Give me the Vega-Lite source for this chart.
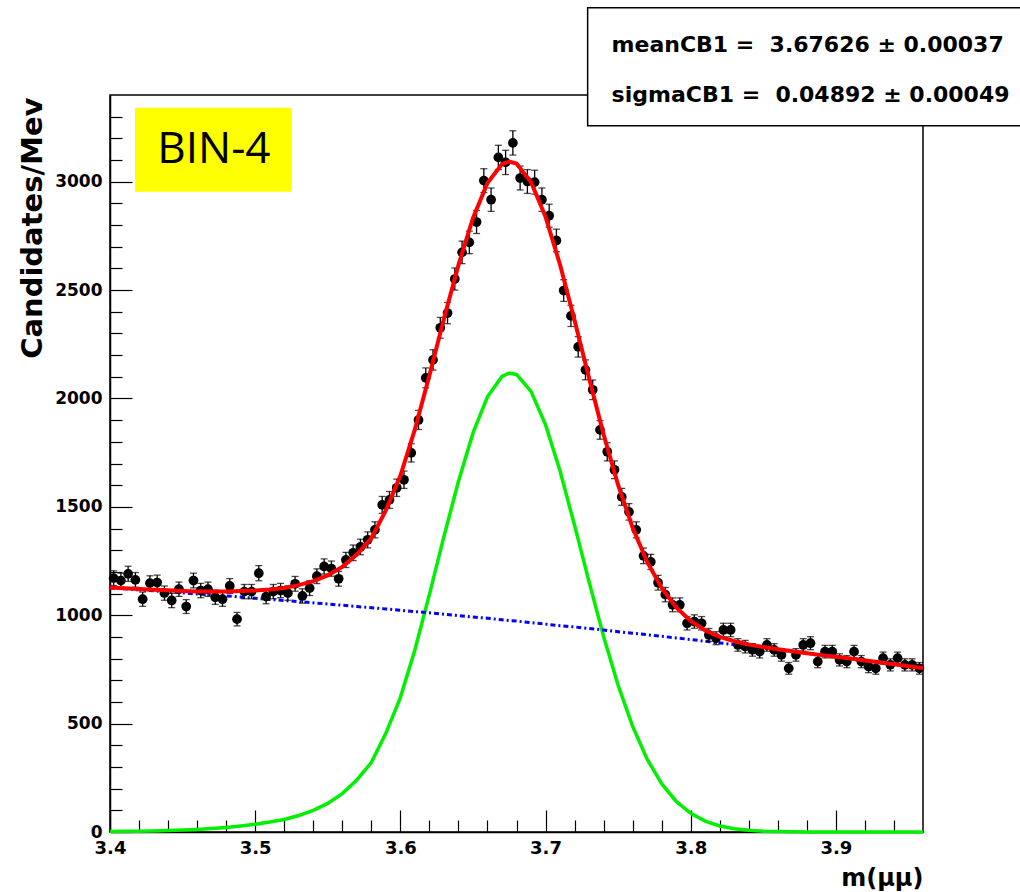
{
  "$schema": "https://vega.github.io/schema/vega-lite/v6.json",
  "width": 813,
  "height": 737,
  "autosize": {"type": "none"},
  "padding": {"left": 110, "top": 95, "right": 97, "bottom": 60},
  "background": "white",
  "config": {
    "view": {"stroke": "black", "strokeWidth": 1.5},
    "axis": {"grid": false, "domainColor": "black", "domainWidth": 1.5, "tickColor": "black", "tickWidth": 1.2, "labelColor": "black", "titleColor": "black", "labelFont": "DejaVu Sans", "titleFont": "DejaVu Sans", "labelFontWeight": "bold", "titleFontWeight": "bold"}
  },
  "resolve": {"axis": {"x": "independent", "y": "independent"}},
  "datasets": {
    "curves": [
      {"x":3.40,"g":2,"b":1126,"t":1128},{"x":3.41,"g":3,"b":1122,"t":1125},{"x":3.42,"g":4,"b":1117,"t":1121},{"x":3.43,"g":5,"b":1113,"t":1118},{"x":3.44,"g":7,"b":1108,"t":1115},{"x":3.45,"g":9,"b":1103,"t":1112},{"x":3.46,"g":12,"b":1098,"t":1110},{"x":3.47,"g":16,"b":1094,"t":1110},{"x":3.48,"g":21,"b":1089,"t":1110},{"x":3.49,"g":28,"b":1084,"t":1112},
      {"x":3.50,"g":36,"b":1078,"t":1114},{"x":3.51,"g":46,"b":1073,"t":1119},{"x":3.52,"g":58,"b":1068,"t":1126},{"x":3.53,"g":76,"b":1063,"t":1139},{"x":3.54,"g":100,"b":1057,"t":1157},{"x":3.55,"g":132,"b":1052,"t":1184},{"x":3.56,"g":177,"b":1046,"t":1223},{"x":3.57,"g":240,"b":1040,"t":1280},{"x":3.58,"g":320,"b":1035,"t":1355},{"x":3.59,"g":455,"b":1029,"t":1484},
      {"x":3.60,"g":620,"b":1023,"t":1643},{"x":3.61,"g":840,"b":1017,"t":1857},{"x":3.62,"g":1095,"b":1011,"t":2106},{"x":3.63,"g":1363,"b":1005,"t":2368},{"x":3.64,"g":1617,"b":998,"t":2615},{"x":3.65,"g":1840,"b":992,"t":2832},{"x":3.66,"g":2008,"b":986,"t":2994},{"x":3.67,"g":2102,"b":979,"t":3081},{"x":3.675,"g":2117,"b":976,"t":3093},{"x":3.68,"g":2111,"b":973,"t":3084},{"x":3.69,"g":2033,"b":966,"t":2999},
      {"x":3.70,"g":1879,"b":959,"t":2838},{"x":3.71,"g":1665,"b":952,"t":2617},{"x":3.72,"g":1415,"b":946,"t":2361},{"x":3.73,"g":1154,"b":939,"t":2093},{"x":3.74,"g":902,"b":932,"t":1834},{"x":3.75,"g":677,"b":924,"t":1601},{"x":3.76,"g":487,"b":917,"t":1404},{"x":3.77,"g":336,"b":910,"t":1246},{"x":3.78,"g":223,"b":903,"t":1126},{"x":3.79,"g":141,"b":895,"t":1036},
      {"x":3.80,"g":86,"b":888,"t":974},{"x":3.81,"g":50,"b":880,"t":930},{"x":3.82,"g":28,"b":872,"t":900},{"x":3.83,"g":15,"b":865,"t":880},{"x":3.84,"g":8,"b":857,"t":865},{"x":3.85,"g":4,"b":849,"t":853},{"x":3.86,"g":2,"b":841,"t":843},{"x":3.87,"g":1,"b":833,"t":834},{"x":3.88,"g":0,"b":825,"t":825},{"x":3.89,"g":0,"b":816,"t":816},
      {"x":3.90,"g":0,"b":808,"t":808},{"x":3.91,"g":0,"b":800,"t":800},{"x":3.92,"g":0,"b":791,"t":791},{"x":3.93,"g":0,"b":783,"t":783},{"x":3.94,"g":0,"b":774,"t":774},{"x":3.95,"g":0,"b":765,"t":765},{"x":3.96,"g":0,"b":756,"t":756}
    ],
    "points": [
      {"x":3.4025,"v":1171,"e":34},{"x":3.4075,"v":1160,"e":34},{"x":3.4125,"v":1191,"e":35},{"x":3.4175,"v":1163,"e":34},{"x":3.4225,"v":1074,"e":33},{"x":3.4275,"v":1148,"e":34},{"x":3.4325,"v":1151,"e":34},{"x":3.4375,"v":1102,"e":33},{"x":3.4425,"v":1068,"e":33},{"x":3.4475,"v":1120,"e":33},
      {"x":3.4525,"v":1040,"e":32},{"x":3.4575,"v":1160,"e":34},{"x":3.4625,"v":1114,"e":33},{"x":3.4675,"v":1120,"e":33},{"x":3.4725,"v":1083,"e":33},{"x":3.4775,"v":1074,"e":33},{"x":3.4825,"v":1135,"e":34},{"x":3.4875,"v":982,"e":31},{"x":3.4925,"v":1109,"e":33},{"x":3.4975,"v":1109,"e":33},
      {"x":3.5025,"v":1194,"e":35},{"x":3.5075,"v":1086,"e":33},{"x":3.5125,"v":1109,"e":33},{"x":3.5175,"v":1114,"e":33},{"x":3.5225,"v":1102,"e":33},{"x":3.5275,"v":1145,"e":34},{"x":3.5325,"v":1089,"e":33},{"x":3.5375,"v":1125,"e":34},{"x":3.5425,"v":1180,"e":34},{"x":3.5475,"v":1225,"e":35},
      {"x":3.5525,"v":1215,"e":35},{"x":3.5575,"v":1168,"e":34},{"x":3.5625,"v":1255,"e":35},{"x":3.5675,"v":1288,"e":36},{"x":3.5725,"v":1315,"e":36},{"x":3.5775,"v":1348,"e":37},{"x":3.5825,"v":1394,"e":37},{"x":3.5875,"v":1509,"e":39},{"x":3.5925,"v":1532,"e":39},{"x":3.5975,"v":1588,"e":40},
      {"x":3.6025,"v":1625,"e":40},{"x":3.6075,"v":1749,"e":42},{"x":3.6125,"v":1901,"e":44},{"x":3.6175,"v":2095,"e":46},{"x":3.6225,"v":2178,"e":47},{"x":3.6275,"v":2326,"e":48},{"x":3.6325,"v":2394,"e":49},{"x":3.6375,"v":2551,"e":51},{"x":3.6425,"v":2674,"e":52},{"x":3.6475,"v":2720,"e":52},
      {"x":3.6525,"v":2814,"e":53},{"x":3.6575,"v":3005,"e":55},{"x":3.6625,"v":2917,"e":54},{"x":3.6675,"v":3112,"e":56},{"x":3.6725,"v":3089,"e":56},{"x":3.6775,"v":3179,"e":56},{"x":3.6825,"v":3017,"e":55},{"x":3.6875,"v":3001,"e":55},{"x":3.6925,"v":2998,"e":55},{"x":3.6975,"v":2917,"e":54},
      {"x":3.7025,"v":2843,"e":53},{"x":3.7075,"v":2729,"e":52},{"x":3.7125,"v":2498,"e":50},{"x":3.7175,"v":2381,"e":49},{"x":3.7225,"v":2238,"e":47},{"x":3.7275,"v":2132,"e":46},{"x":3.7325,"v":2040,"e":45},{"x":3.7375,"v":1855,"e":43},{"x":3.7425,"v":1754,"e":42},{"x":3.7475,"v":1671,"e":41},
      {"x":3.7525,"v":1546,"e":39},{"x":3.7575,"v":1477,"e":38},{"x":3.7625,"v":1394,"e":37},{"x":3.7675,"v":1274,"e":36},{"x":3.7725,"v":1246,"e":35},{"x":3.7775,"v":1150,"e":34},{"x":3.7825,"v":1095,"e":33},{"x":3.7875,"v":1048,"e":32},{"x":3.7925,"v":1048,"e":32},{"x":3.7975,"v":963,"e":31},
      {"x":3.8025,"v":971,"e":31},{"x":3.8075,"v":963,"e":31},{"x":3.8125,"v":909,"e":30},{"x":3.8175,"v":894,"e":30},{"x":3.8225,"v":932,"e":31},{"x":3.8275,"v":932,"e":31},{"x":3.8325,"v":863,"e":29},{"x":3.8375,"v":855,"e":29},{"x":3.8425,"v":840,"e":29},{"x":3.8475,"v":832,"e":29},
      {"x":3.8525,"v":863,"e":29},{"x":3.8575,"v":840,"e":29},{"x":3.8625,"v":817,"e":29},{"x":3.8675,"v":755,"e":27},{"x":3.8725,"v":817,"e":29},{"x":3.8775,"v":863,"e":29},{"x":3.8825,"v":871,"e":30},{"x":3.8875,"v":786,"e":28},{"x":3.8925,"v":832,"e":29},{"x":3.8975,"v":832,"e":29},
      {"x":3.9025,"v":794,"e":28},{"x":3.9075,"v":786,"e":28},{"x":3.9125,"v":832,"e":29},{"x":3.9175,"v":786,"e":28},{"x":3.9225,"v":763,"e":28},{"x":3.9275,"v":755,"e":27},{"x":3.9325,"v":802,"e":28},{"x":3.9375,"v":771,"e":28},{"x":3.9425,"v":802,"e":28},{"x":3.9475,"v":771,"e":28},
      {"x":3.9525,"v":771,"e":28},{"x":3.9575,"v":755,"e":27}
    ],
    "binbox": [{"x1":3.4172,"x2":3.5253,"y1":2954,"y2":3341,"tx":3.4716,"ty":3145,"label":"BIN-4"}],
    "statbox": [{"x1":3.729,"x2":4.05,"y1":3258,"y2":3803}],
    "stattext": [
      {"x":3.7455,"y":3631,"label":"meanCB1 = \u00a03.67626 ± 0.00037"},
      {"x":3.7455,"y":3400,"label":"sigmaCB1 = \u00a00.04892 ± 0.00049"}
    ]
  },
  "layer": [
    {
      "data": {"name": "curves"},
      "mark": {"type": "line", "color": "#00f000", "strokeWidth": 3.5},
      "encoding": {
        "x": {"field": "x", "type": "quantitative",
          "scale": {"domain": [3.4, 3.96], "nice": false, "zero": false},
          "axis": {"orient": "bottom", "title": "m(μμ)", "values": [3.4, 3.5, 3.6, 3.7, 3.8, 3.9],
            "format": ".1f", "labelFlush": false, "labelOverlap": false, "labelFontSize": 18, "labelPadding": 29,
            "tickSize": -22,
            "titleFontSize": 24, "titleAlign": "right", "titleBaseline": "middle", "titleX": 813, "titleY": 46}},
        "y": {"field": "g", "type": "quantitative",
          "scale": {"domain": [0, 3400], "nice": false, "zero": false},
          "axis": {"orient": "left", "title": "Candidates/Mev", "values": [0, 500, 1000, 1500, 2000, 2500, 3000],
            "format": "d", "labelOverlap": false, "labelFlush": false, "labelFontSize": 17, "labelPadding": 30,
            "tickSize": -22,
            "titleFontSize": 29, "titleAngle": 270, "titleAlign": "right", "titleBaseline": "middle", "titleX": -78, "titleY": 2}}
      }
    },
    {
      "data": {"name": "curves"},
      "mark": {"type": "line", "color": "#0000ff", "strokeWidth": 3, "strokeDash": [5, 3, 2, 3]},
      "encoding": {
        "x": {"field": "x", "type": "quantitative",
          "axis": {"orient": "bottom", "title": null, "labels": false, "domain": false, "tickSize": -12,
            "values": [3.42,3.44,3.46,3.48,3.52,3.54,3.56,3.58,3.62,3.64,3.66,3.68,3.72,3.74,3.76,3.78,3.82,3.84,3.86,3.88,3.92,3.94]}},
        "y": {"field": "b", "type": "quantitative",
          "axis": {"orient": "left", "title": null, "labels": false, "domain": false, "tickSize": -12,
            "values": [100,200,300,400,600,700,800,900,1100,1200,1300,1400,1600,1700,1800,1900,2100,2200,2300,2400,2600,2700,2800,2900,3100,3200,3300]}}
      }
    },
    {
      "data": {"name": "points"},
      "mark": {"type": "errorbar", "color": "black", "thickness": 1.3, "ticks": {"size": 7, "color": "black"}},
      "encoding": {
        "x": {"field": "x", "type": "quantitative", "axis": null},
        "y": {"field": "v", "type": "quantitative", "axis": null},
        "yError": {"field": "e"}
      }
    },
    {
      "data": {"name": "points"},
      "mark": {"type": "point", "shape": "circle", "filled": true, "color": "black", "opacity": 1, "size": 95},
      "encoding": {
        "x": {"field": "x", "type": "quantitative", "axis": null},
        "y": {"field": "v", "type": "quantitative", "axis": null}
      }
    },
    {
      "data": {"name": "curves"},
      "mark": {"type": "line", "color": "#ff0000", "strokeWidth": 4},
      "encoding": {
        "x": {"field": "x", "type": "quantitative", "axis": null},
        "y": {"field": "t", "type": "quantitative", "axis": null}
      }
    },
    {
      "data": {"name": "binbox"},
      "mark": {"type": "rect", "color": "#ffff00"},
      "encoding": {
        "x": {"field": "x1", "type": "quantitative", "axis": null},
        "x2": {"field": "x2"},
        "y": {"field": "y1", "type": "quantitative", "axis": null},
        "y2": {"field": "y2"}
      }
    },
    {
      "data": {"name": "binbox"},
      "mark": {"type": "text", "font": "Open Sans", "fontSize": 44, "color": "black", "align": "center", "baseline": "middle"},
      "encoding": {
        "x": {"field": "tx", "type": "quantitative", "axis": null},
        "y": {"field": "ty", "type": "quantitative", "axis": null},
        "text": {"field": "label"}
      }
    },
    {
      "data": {"name": "statbox"},
      "mark": {"type": "rect", "fill": "white", "stroke": "black", "strokeWidth": 1.5},
      "encoding": {
        "x": {"field": "x1", "type": "quantitative", "axis": null},
        "x2": {"field": "x2"},
        "y": {"field": "y1", "type": "quantitative", "axis": null},
        "y2": {"field": "y2"}
      }
    },
    {
      "data": {"name": "stattext"},
      "mark": {"type": "text", "font": "DejaVu Sans", "fontWeight": "bold", "fontSize": 22, "color": "black", "align": "left", "baseline": "middle"},
      "encoding": {
        "x": {"field": "x", "type": "quantitative", "axis": null},
        "y": {"field": "y", "type": "quantitative", "axis": null},
        "text": {"field": "label"}
      }
    }
  ]
}
